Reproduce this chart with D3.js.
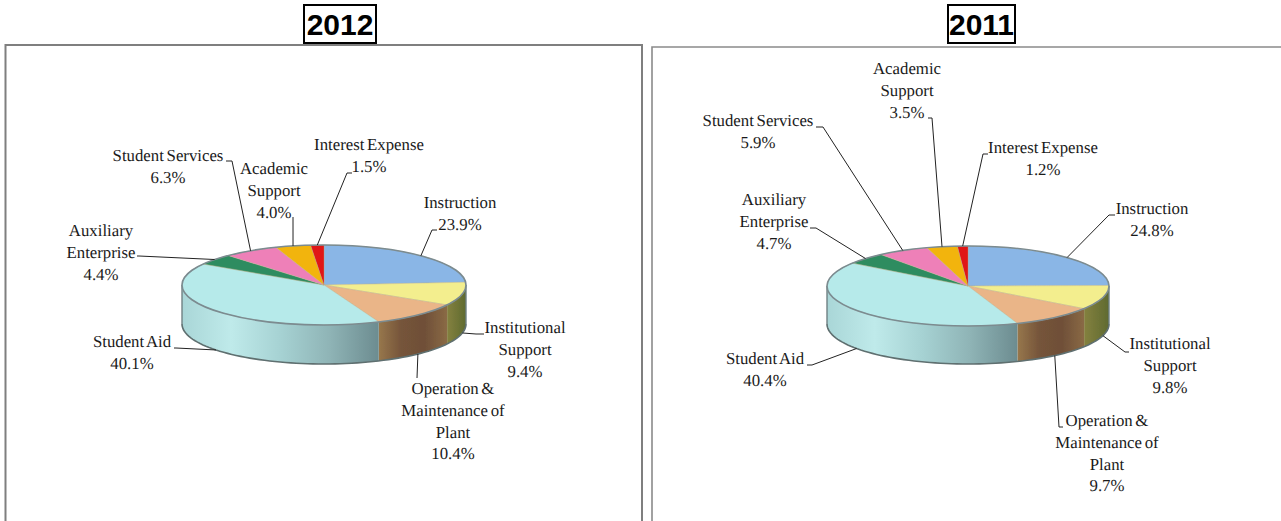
<!DOCTYPE html>
<html>
<head>
<meta charset="utf-8">
<script src="https://cdn.jsdelivr.net/npm/d3@7"></script>
<style>
  html, body { margin: 0; padding: 0; background: #fff; overflow: hidden; }
  .lbl { font-family: "Liberation Serif", serif; font-size: 16.8px; word-spacing: -1.5px; fill: #1a1a1a; text-anchor: middle; text-rendering: geometricPrecision; }
  .yr { font-family: "Liberation Sans", sans-serif; font-size: 30px; font-weight: bold; fill: #000; text-anchor: middle; }
</style>
</head>
<body>
<div id="charts"></div>
<script>
// data
var categories = ["Instruction", "Institutional Support", "Operation & Maintenance of Plant", "Student Aid",
                  "Auxiliary Enterprise", "Student Services", "Academic Support", "Interest Expense"];
var values2012 = [23.9, 9.4, 10.4, 40.1, 4.4, 6.3, 4.0, 1.5];
var values2011 = [24.8, 9.8, 9.7, 40.4, 4.7, 5.9, 3.5, 1.2];
var labelLines = [["Instruction"], ["Institutional", "Support"], ["Operation &", "Maintenance of", "Plant"], ["Student Aid"],
                  ["Auxiliary", "Enterprise"], ["Student Services"], ["Academic", "Support"], ["Interest Expense"]];

// colours: top face, then side gradient stops (only the front slices show a side)
var topColors = ["#8ab6e6", "#f3ee8e", "#eab588", "#b6eaea", "#2f8c60", "#ee80b8", "#f2b40e", "#e01212"];
var sideColors = [
  ["#6f8fb5", "#5f7fa5"],
  ["#84813f", "#5f6a30"],
  ["#97774c", "#75543a", "#6f4f38", "#8a6a45"],
  ["#a9d6d7", "#bfeaea", "#a6d2d3", "#8fb4b6", "#6c8c90"],
  ["#2f8c60", "#2f8c60"], ["#ee80b8", "#ee80b8"], ["#f2b40e", "#f2b40e"], ["#e01212", "#e01212"]
];

// label layout: x/y = centre and first line, elbow = leader bend, start = where leader leaves the text
var layout2012 = [
  {x: 460, y: 203, start: [437, 230], elbow: [432, 230]},
  {x: 525, y: 328, start: [484, 334], elbow: [476, 334]},
  {x: 453, y: 389, start: [417, 378], elbow: [417, 378]},
  {x: 132, y: 342, start: [174, 348], elbow: [176, 348]},
  {x: 101, y: 231, start: [137, 256], elbow: [139, 256]},
  {x: 168, y: 156, start: [226, 161], elbow: [232, 161]},
  {x: 274, y: 169, start: [293, 217], elbow: [293, 217]},
  {x: 369, y: 145, start: [352, 173], elbow: [347, 173]}
];
var layout2011 = [
  {x: 1152, y: 209, start: [1115, 215], elbow: [1109, 215]},
  {x: 1170, y: 344, start: [1129, 352], elbow: [1125, 352]},
  {x: 1107, y: 421, start: [1063, 427], elbow: [1059, 427]},
  {x: 765, y: 359, start: [807, 365], elbow: [812, 365]},
  {x: 774, y: 200, start: [810, 228], elbow: [816, 228]},
  {x: 758, y: 121, start: [816, 127], elbow: [823, 127]},
  {x: 907, y: 69, start: [928, 118], elbow: [932, 118]},
  {x: 1043, y: 148, start: [988, 154], elbow: [983, 154]}
];

var W = 1281, H = 521;
var LINE_H = 21.8;
var fmt = d3.format(".1f");

var svg = d3.select("#charts").append("svg")
  .attr("width", W)
  .attr("height", H)
  .style("display", "block");

var defs = svg.append("defs");
defs.append("filter").attr("id", "soft")
  .attr("x", "-5%").attr("y", "-5%").attr("width", "110%").attr("height", "110%")
  .append("feGaussianBlur").attr("stdDeviation", 0.55);

sideColors.forEach(function(stops, i){
  var g = defs.append("linearGradient").attr("id", "side" + i);
  stops.forEach(function(c, j){
    g.append("stop")
      .attr("offset", (j / (stops.length - 1)) * 100 + "%")
      .attr("stop-color", c);
  });
});

function drawPie(values, layout, geo){
  var rx = geo.rx, ry = geo.ry, depth = geo.depth;
  var slices = d3.pie().sort(null).value(function(d){ return d; })(values);
  var arc = d3.arc().innerRadius(0).outerRadius(rx);

  var g = svg.append("g")
    .attr("transform", "translate(" + geo.cx + "," + geo.cy + ")")
    .attr("filter", "url(#soft)");

  // side wall of one slice: only the part between 3 and 9 o'clock faces us
  var rim = function(a){ return [rx * Math.sin(a), -ry * Math.cos(a)]; };
  function wallPath(d){
    var a0 = Math.max(d.startAngle, Math.PI / 2);
    var a1 = Math.min(d.endAngle, Math.PI * 1.5);
    if(a1 <= a0) return null;
    var angles = d3.range(0, 41).map(function(k){ return a0 + (a1 - a0) * k / 40; });
    var up = angles.map(rim);
    var down = angles.slice().reverse().map(function(a){
      var p = rim(a);
      return [p[0], p[1] + depth];
    });
    return d3.line()(up.concat(down)) + "Z";
  }

  g.selectAll(".wall")
    .data(slices)
    .enter().append("path")
    .attr("class", "wall")
    .attr("d", wallPath)
    .attr("fill", function(d, i){ return "url(#side" + i + ")"; });

  // rim outline round the whole front of the wall
  var frontAngles = d3.range(0, 81).map(function(k){ return Math.PI / 2 + Math.PI * k / 80; });
  g.append("path")
    .attr("d", d3.line()(frontAngles.map(function(a){ var p = rim(a); return [p[0], p[1] + depth]; })))
    .attr("fill", "none")
    .attr("stroke", "#5f6f70")
    .attr("stroke-width", 1.6);
  [Math.PI / 2, Math.PI * 1.5].forEach(function(a){
    var p = rim(a);
    g.append("line")
      .attr("x1", p[0]).attr("y1", p[1])
      .attr("x2", p[0]).attr("y2", p[1] + depth)
      .attr("stroke", "#6f8083")
      .attr("stroke-width", 1.4);
  });

  var top = g.append("g")
    .attr("transform", "scale(1," + (ry / rx) + ")");

  top.selectAll(".slice")
    .data(slices)
    .enter().append("path")
    .attr("class", "slice")
    .attr("d", arc)
    .attr("fill", function(d, i){ return topColors[i]; })
    .attr("stroke", "#b9b08c")
    .attr("stroke-width", 0.6);

  // grey edge of the top face
  top.append("circle")
    .attr("r", rx)
    .attr("fill", "none")
    .attr("stroke", "#7b8b90")
    .attr("stroke-width", 1.6)
    .attr("vector-effect", "non-scaling-stroke");

  // leaders go to the rim at each slice's middle angle
  slices.forEach(function(d, i){
    var mid = (d.startAngle + d.endAngle) / 2;
    var p = rim(mid);
    var l = layout[i];
    var ax = geo.cx + p[0];
    var ay = geo.cy + p[1] + (Math.cos(mid) < 0 ? depth : 0);
    svg.append("path")
      .attr("d", d3.line()([l.start, l.elbow, [ax, ay]]))
      .attr("fill", "none")
      .attr("stroke", "#222")
      .attr("stroke-width", 1);

    var t = svg.append("text")
      .attr("class", "lbl")
      .attr("x", l.x)
      .attr("y", l.y + 5);
    labelLines[i].concat(fmt(d.value) + "%").forEach(function(s, j){
      t.append("tspan")
        .attr("x", l.x)
        .attr("dy", j === 0 ? 0 : LINE_H)
        .text(s);
    });
  });
}

function drawPanel(x0, x1, y0, col, sw){
  svg.append("path")
    .attr("d", d3.line()([[x0, H], [x0, y0], [x1, y0], [x1, H]]))
    .attr("fill", "none")
    .attr("stroke", col)
    .attr("stroke-width", sw);
}

function drawYear(label, x0, x1){
  svg.append("rect")
    .attr("x", x0).attr("y", 5)
    .attr("width", x1 - x0).attr("height", 38)
    .attr("fill", "#fff")
    .attr("stroke", "#000")
    .attr("stroke-width", 2);
  svg.append("text")
    .attr("class", "yr")
    .attr("x", (x0 + x1) / 2)
    .attr("y", 35)
    .text(label);
}

drawPanel(5.5, 642, 45, "#7f7f7f", 2);
drawPanel(652, 1290, 47, "#8a8a8a", 1.6);
drawYear("2012", 304, 376);
drawYear("2011", 948, 1015);

drawPie(values2012, layout2012, {cx: 324, cy: 285, rx: 142, ry: 40, depth: 39});
drawPie(values2011, layout2011, {cx: 968, cy: 286, rx: 141, ry: 40, depth: 38});
</script>
</body>
</html>
